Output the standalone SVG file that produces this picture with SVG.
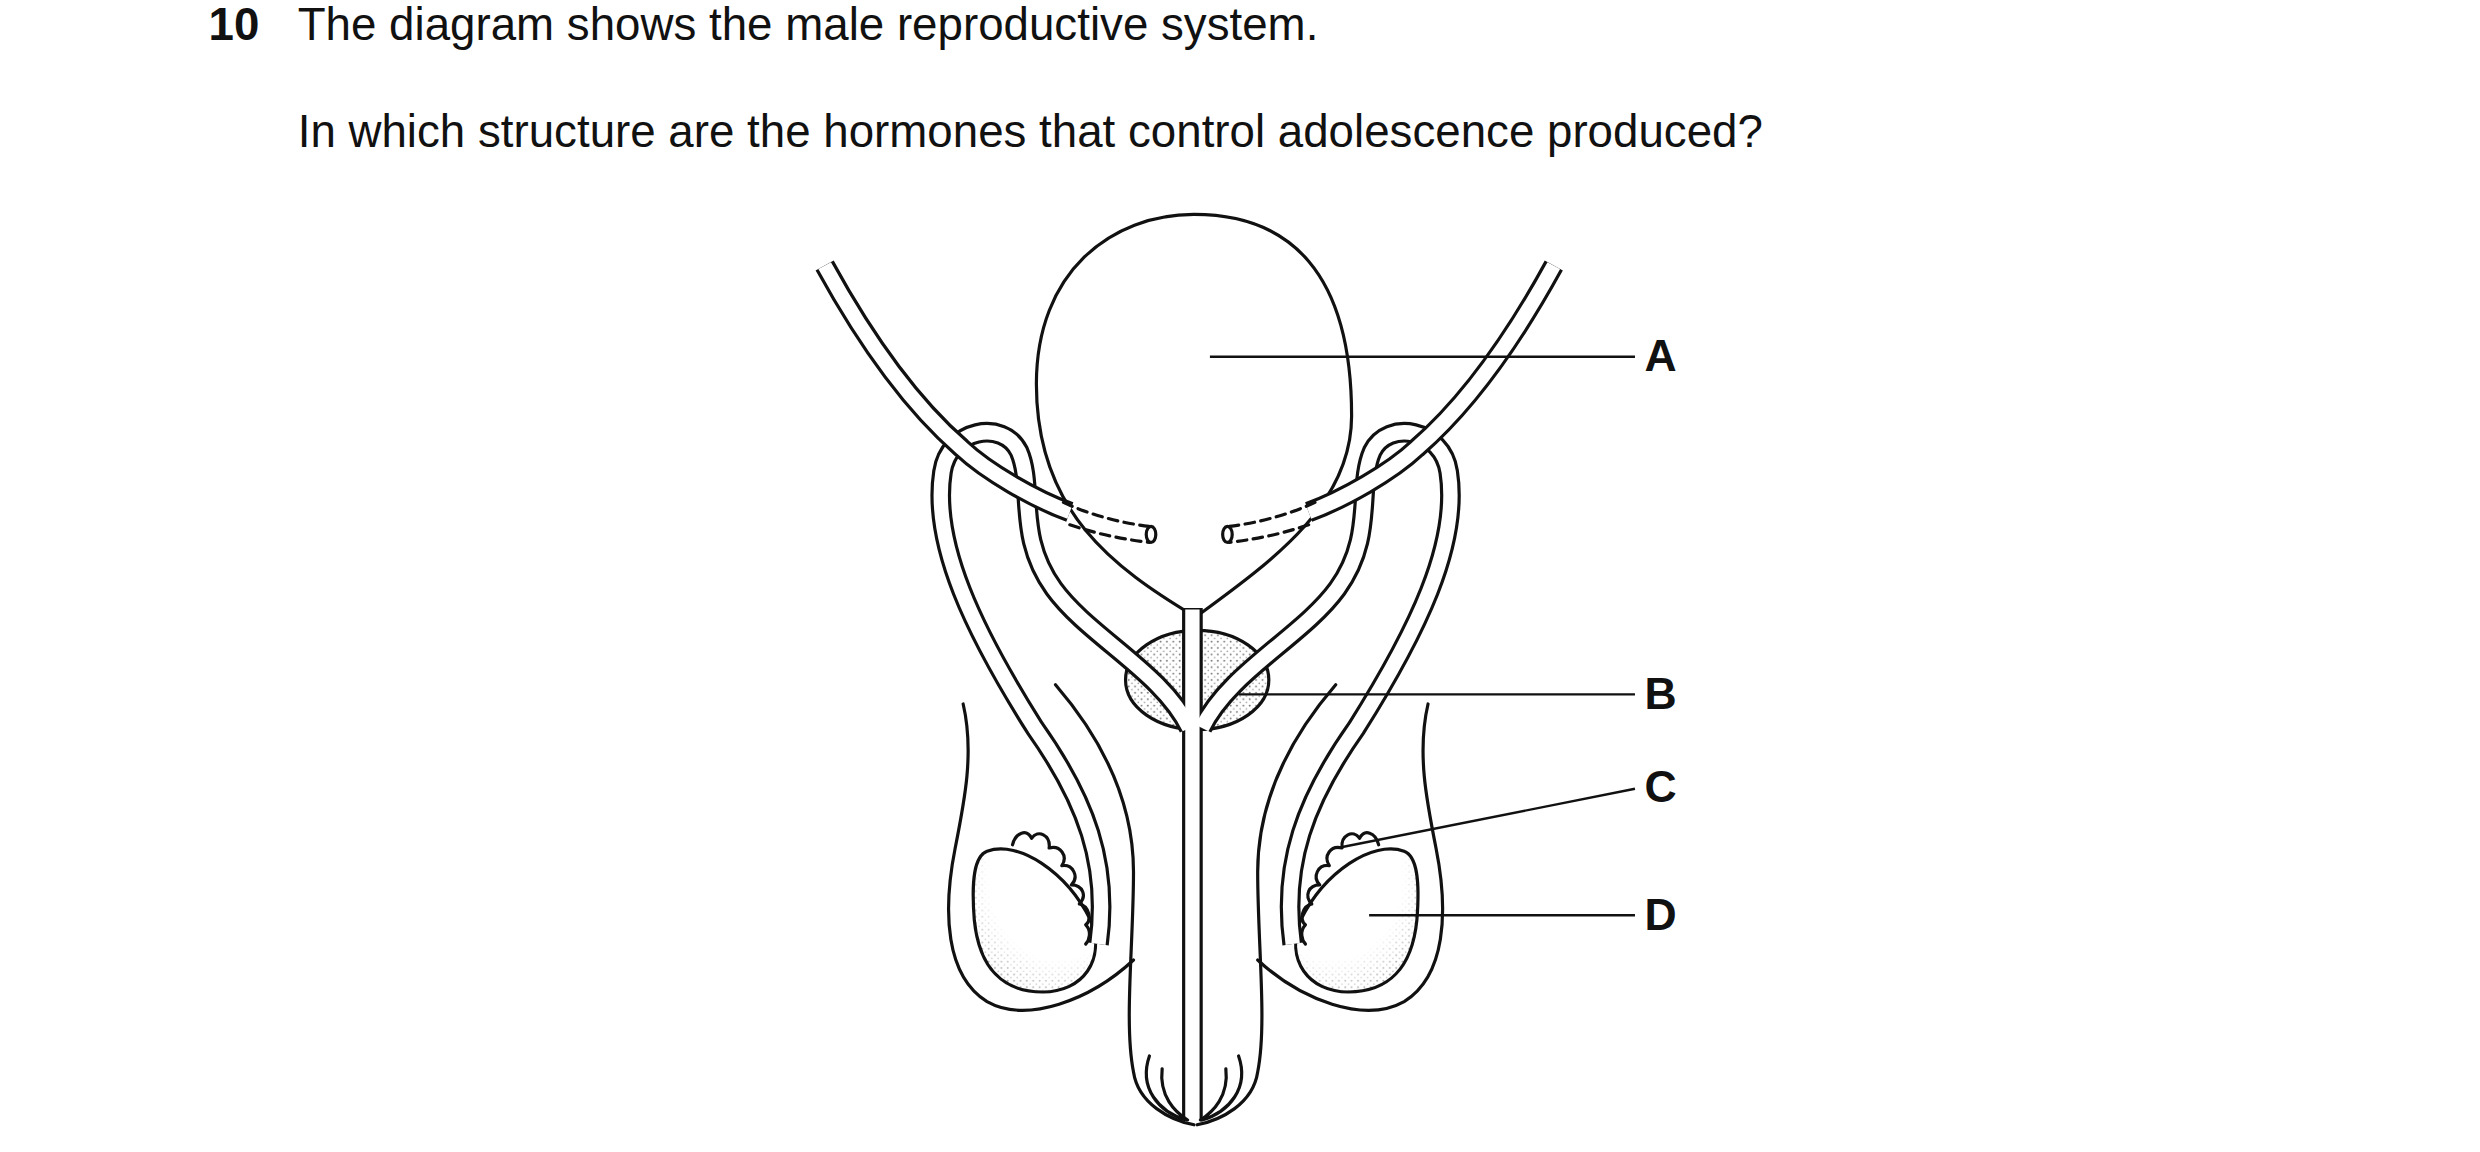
<svg xmlns="http://www.w3.org/2000/svg" xmlns:xlink="http://www.w3.org/1999/xlink" width="2480" height="1152" viewBox="0 0 2480 1152">
<style>
.l{fill:none;stroke:#111;stroke-width:2;stroke-linecap:round;stroke-linejoin:round}
.tb{fill:none;stroke:#111;stroke-width:13;stroke-linecap:butt;stroke-linejoin:round}
.tw{fill:none;stroke:#fff;stroke-width:9;stroke-linecap:butt;stroke-linejoin:round}
.t{font-family:"Liberation Sans",Arial,sans-serif;font-size:28.7px;fill:#111}
.lab{font-family:"Liberation Sans",Arial,sans-serif;font-size:28px;font-weight:bold;fill:#111}
.ld{stroke:#111;stroke-width:1.5}
</style>
<defs>
<pattern id="dots" width="4" height="4" patternUnits="userSpaceOnUse">
<rect width="4" height="4" fill="#fff"/><circle cx="1" cy="1" r="0.6" fill="#777"/><circle cx="3" cy="3" r="0.5" fill="#999"/>
</pattern>
<radialGradient id="tg" cx="0.7" cy="0.2" r="0.95">
<stop offset="0.6" stop-color="#fff" stop-opacity="1"/><stop offset="1" stop-color="#fff" stop-opacity="0"/>
</radialGradient>
<g id="half">
<path class="l" d="M605,440 C612,470 606,500 600,530 C592,570 594,610 620,626 C645,640 685,625 712,600"/>
<path class="l" d="M663,428 C695,465 712,505 712,545 C712,590 706,640 712,670 C715,690 735,700 750,703"/>
<g id="testis">
<path d="M620,532 C640,525 670,545 685,575 C695,600 680,620 655,620 C630,620 615,605 612,575 C610,550 612,535 620,532 Z" fill="url(#dots)" stroke="none"/>
<path d="M620,532 C640,525 670,545 685,575 C695,600 680,620 655,620 C630,620 615,605 612,575 C610,550 612,535 620,532 Z" fill="url(#tg)" stroke="none"/>
<path class="l" d="M620,532 C640,525 670,545 685,575 C695,600 680,620 655,620 C630,620 615,605 612,575 C610,550 612,535 620,532 Z"/>
<path class="l" d="M636,528 C638,520 645,518 648,524 C652,518 660,522 659,530 C666,528 671,535 667,541 C674,540 678,548 673,553 C680,553 683,560 678,565 C684,566 686,575 682,578 C686,582 684,588 682,590"/>
</g>
<path class="tb" d="M690,590 C697,540 682,500 650,455 C612,395 585,340 592,295 C596,268 630,262 640,282 C650,305 638,335 662,368 C684,398 730,420 747,455"/>
</g>
<g id="halfw">
<path class="tw" d="M690,590 C697,540 682,500 650,455 C612,395 585,340 592,295 C596,268 630,262 640,282 C650,305 638,335 662,368 C684,398 730,420 747,455"/>
</g>
<g id="ureter">
<path class="tb" d="M518,166 C545,215 575,255 604,280 C620,295 650,312 672,320"/>
<path class="tw" d="M518,166 C545,215 575,255 604,280 C620,295 650,312 672,320"/>
<path class="l" stroke-dasharray="6,4" d="M668,314 C685,322 705,327 722,329 M672,328 C690,334 705,337 722,339"/>
<ellipse class="l" cx="723" cy="334" rx="3" ry="5" fill="#fff"/>
</g>
</defs>
<g transform="scale(1.592 1.6)">
<g id="text">
<text class="t" x="131" y="25" font-weight="bold">10</text>
<text class="t" x="187" y="25">The diagram shows the male reproductive system.</text>
<text class="t" x="187" y="92">In which structure are the hormones that control adolescence produced?</text>
</g>
<g id="bladder">
<path class="l" fill="#fff" d="M750,385 C700,355 651,320 651,240 C651,170 698,134 750,134 C810,134 849,170 849,260 C849,315 800,350 752,385"/>
</g>
<g id="prostate">
<ellipse cx="752" cy="425" rx="45" ry="31" fill="url(#dots)" stroke="#111" stroke-width="2"/>
</g>
<g id="system">
<use xlink:href="#half"/>
<use xlink:href="#half" transform="translate(1502,0) scale(-1,1)"/>
<path class="tb" d="M749,380 L749,700"/>
<use xlink:href="#halfw"/>
<use xlink:href="#halfw" transform="translate(1502,0) scale(-1,1)"/>
<path class="tw" d="M749,381 L749,701"/>
<use xlink:href="#ureter"/>
<use xlink:href="#ureter" transform="translate(1494,0) scale(-1,1)"/>
<path class="l" d="M722,660 C715,680 728,695 745,700 M778,660 C785,680 772,695 755,700 M730,668 C728,685 738,695 746,700 M770,668 C772,685 762,695 754,700"/>
</g>
<g id="labels">
<line class="ld" x1="760" y1="223" x2="1027" y2="223"/>
<text class="lab" x="1033" y="232">A</text>
<line class="ld" x1="778" y1="434" x2="1027" y2="434"/>
<text class="lab" x="1033" y="443">B</text>
<line class="ld" x1="840" y1="530" x2="1027" y2="493"/>
<text class="lab" x="1033" y="501">C</text>
<line class="ld" x1="860" y1="572" x2="1027" y2="572"/>
<text class="lab" x="1033" y="581">D</text>
</g>
</g>
</svg>
